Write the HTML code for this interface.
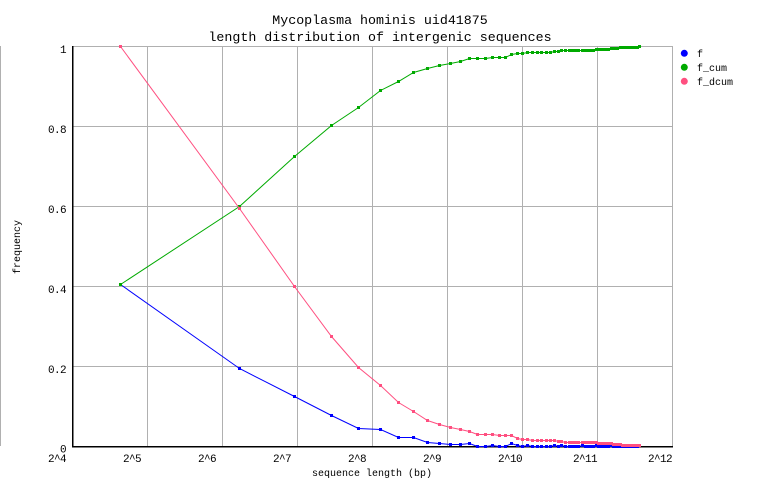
<!DOCTYPE html>
<html>
<head>
<meta charset="utf-8">
<style>
  html, body { margin: 0; padding: 0; background: #ffffff; }
  body { width: 762px; height: 498px; overflow: hidden; }
  svg { display: block; }
  text { font-family: "Liberation Mono", "DejaVu Sans Mono", monospace; fill: #000; }
</style>
</head>
<body>
<svg id="chart" xmlns="http://www.w3.org/2000/svg" width="762" height="498" viewBox="0 0 762 498">
  <rect x="0" y="0" width="762" height="498" fill="#ffffff"/>
  <!-- stray left line -->
  <rect x="0" y="46" width="1" height="400" fill="#b0b0b0"/>

  <!-- grid -->
  <g stroke="#b0b0b0" stroke-width="1" shape-rendering="crispEdges" fill="none">
    <line x1="72" y1="46.5" x2="672" y2="46.5"/>
    <line x1="72" y1="126.5" x2="672" y2="126.5"/>
    <line x1="72" y1="206.5" x2="672" y2="206.5"/>
    <line x1="72" y1="286.5" x2="672" y2="286.5"/>
    <line x1="72" y1="366.5" x2="672" y2="366.5"/>
    <line x1="147.5" y1="46" x2="147.5" y2="446"/>
    <line x1="222.5" y1="46" x2="222.5" y2="446"/>
    <line x1="297.5" y1="46" x2="297.5" y2="446"/>
    <line x1="372.5" y1="46" x2="372.5" y2="446"/>
    <line x1="447.5" y1="46" x2="447.5" y2="446"/>
    <line x1="522.5" y1="46" x2="522.5" y2="446"/>
    <line x1="597.5" y1="46" x2="597.5" y2="446"/>
    <line x1="672.5" y1="46" x2="672.5" y2="446"/>
  </g>

  <!-- axes -->
  <g stroke="#000" stroke-width="1.5" shape-rendering="crispEdges">
    <line x1="72.5" y1="46" x2="72.5" y2="447"/>
    <line x1="72" y1="446.5" x2="673" y2="446.5"/>
  </g>

  <!-- title -->
  <text x="380" y="24" text-anchor="middle" font-size="13.3">Mycoplasma hominis uid41875</text>
  <text x="380" y="41" text-anchor="middle" font-size="13.3">length distribution of intergenic sequences</text>

  <!-- y tick labels -->
  <g font-size="11" text-anchor="end" letter-spacing="-0.6">
    <text x="66" y="53">1</text>
    <text x="66" y="133">0.8</text>
    <text x="66" y="213">0.6</text>
    <text x="66" y="293">0.4</text>
    <text x="66" y="373">0.2</text>
    <text x="66" y="452.5">0</text>
  </g>

  <!-- x tick labels -->
  <g font-size="11" letter-spacing="-0.6">
    <text x="48" y="462">2^4</text>
    <text x="123" y="462">2^5</text>
    <text x="198" y="462">2^6</text>
    <text x="273" y="462">2^7</text>
    <text x="348" y="462">2^8</text>
    <text x="423" y="462">2^9</text>
    <text x="498" y="462">2^10</text>
    <text x="573" y="462">2^11</text>
    <text x="648" y="462">2^12</text>
  </g>

  <!-- axis titles -->
  <text x="372" y="476" text-anchor="middle" font-size="10">sequence length (bp)</text>
  <text transform="translate(20,247) rotate(-90)" text-anchor="middle" font-size="10">frequency</text>

  <!-- legend -->
  <g>
    <circle cx="684.3" cy="53.3" r="3.5" fill="#0000ff"/>
    <circle cx="684.3" cy="67.3" r="3.5" fill="#00aa00"/>
    <circle cx="684.3" cy="81.3" r="3.5" fill="#ff4f80"/>
  </g>
  <g font-size="10">
    <text x="697" y="57">f</text>
    <text x="697" y="71">f_cum</text>
    <text x="697" y="85">f_dcum</text>
  </g>

  <g id="series"></g>
</svg>
<script>
(function(){
  var f = [0.405,0.195,0.125,0.0775,0.045,0.0425,0.0225,0.0225,0.01,0.0075,0.005,0.005,0.0075,0,0,0.0025,0,0,0.0075,0.0025,0,0.0025];
  for (var k = 22; k <= 60; k++) f.push(0);
  f[27]=0.002; f[29]=0.002; f[35]=0.002; f[40]=0.002; f[46]=0.003; f[50]=0.001; f[55]=0.001; f[60]=0.002;
  var n = f.length;
  var xs = [], cum = [], dcum = [];
  var c = 0;
  for (var i = 0; i < n; i++) {
    var len = 25 + 50*i;
    xs.push(72 + 75*(Math.log(len)/Math.LN2 - 4));
    dcum.push(1 - c);
    c += f[i];
    cum.push(c);
  }
  function Y(v){ return 446 - 400*v; }
  var ns = "http://www.w3.org/2000/svg";
  var g = document.getElementById("series");
  function series(vals, color){
    var pts = [];
    for (var i = 0; i < n; i++) pts.push((Math.round(xs[i])+0.5) + "," + (Math.round(Y(vals[i]))+0.5));
    var pl = document.createElementNS(ns, "polyline");
    pl.setAttribute("points", pts.join(" "));
    pl.setAttribute("fill", "none");
    pl.setAttribute("stroke", color);
    pl.setAttribute("stroke-width", "1");
    g.appendChild(pl);
    for (var j = 0; j < n; j++) {
      var r = document.createElementNS(ns, "rect");
      r.setAttribute("x", Math.round(xs[j]) - 1);
      r.setAttribute("y", Math.round(Y(vals[j])) - 1);
      r.setAttribute("width", 3);
      r.setAttribute("height", 3);
      r.setAttribute("fill", color);
      r.setAttribute("shape-rendering", "crispEdges");
      g.appendChild(r);
    }
  }
  series(f, "#0000ff");
  series(cum, "#00aa00");
  series(dcum, "#ff4f80");
})();
</script>
</body>
</html>
